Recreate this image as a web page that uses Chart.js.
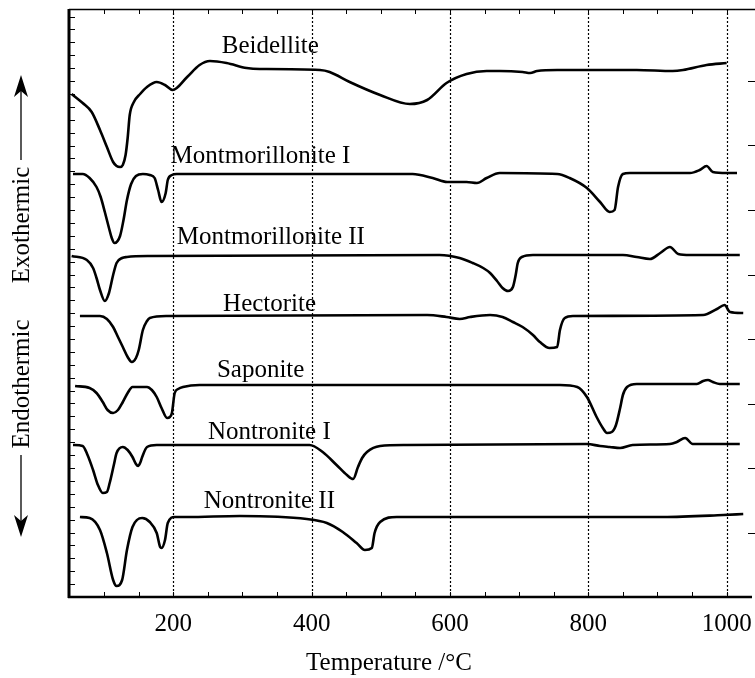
<!DOCTYPE html>
<html><head><meta charset="utf-8">
<script src="https://cdn.jsdelivr.net/npm/chart.js@4.4.1/dist/chart.umd.min.js"></script>
<style>html,body{margin:0;padding:0;background:#fff;} #wrap{width:755px;height:678px;position:relative;}</style>
</head><body><div id="wrap"><canvas id="c"></canvas></div>
<script>
// ---- data (Temperature in °C, DTA signal in arbitrary units, stacked offsets) ----
const xTickLabels = [200, 400, 600, 800, 1000];
const seriesNames = ['Beidellite', 'Montmorillonite I', 'Montmorillonite II', 'Hectorite', 'Saponite', 'Nontronite I', 'Nontronite II'];

const beidelliteT = [53, 69, 82, 94, 104, 113, 118, 123, 127, 131, 134, 137, 143, 152, 162, 176, 188, 199, 220, 238, 253, 277, 306, 325, 335, 412, 426, 455, 499, 542, 567, 595, 624, 653, 672, 705, 716, 726, 755, 870, 922, 937, 971, 1000];
const beidelliteV = [503, 494, 485, 467, 450, 435, 431, 430, 432, 442, 459, 482, 495, 503, 510, 515, 512, 507, 520, 532, 536, 534, 529, 528, 528, 527, 525, 515, 502, 493, 497, 514, 523, 526, 526, 525, 524, 526, 527, 527, 526, 527, 532, 534];

const montITemp = [55, 69, 79, 89, 95, 101, 107, 111, 115, 123, 128, 133, 139, 146, 156, 166, 173, 178, 183, 189, 192, 198, 205, 546, 575, 596, 624, 639, 653, 672, 755, 773, 798, 817, 831, 838, 843, 850, 860, 947, 961, 971, 980, 1000, 1015];
const montIV = [423, 423, 419, 410, 400, 385, 369, 359, 354, 361, 377, 397, 413, 421, 423, 422, 419, 407, 395, 404, 417, 422, 423, 423, 419, 415, 415, 414, 419, 424, 423, 419, 409, 395, 385, 387, 410, 423, 424, 424, 427, 431, 425, 424, 424];

const montIITemp = [53, 75, 84, 89, 94, 101, 107, 113, 118, 126, 133, 166, 585, 614, 633, 648, 658, 668, 676, 684, 691, 695, 698, 704, 720, 850, 870, 889, 904, 918, 930, 947, 1019];
const montIIV = [341, 337, 329, 319, 307, 296, 304, 322, 334, 339, 340, 341, 342, 339, 334, 329, 324, 316, 309, 306, 310, 322, 334, 340, 342, 342, 340, 338, 344, 350, 343, 342, 342];

const hectoriteT = [65, 94, 104, 113, 120, 127, 134, 140, 146, 150, 156, 162, 166, 191, 567, 595, 614, 629, 658, 676, 691, 705, 720, 730, 744, 755, 759, 766, 778, 966, 986, 997, 1005, 1024];
const hectoriteV = [281, 281, 278, 270, 260, 250, 240, 235, 239, 247, 267, 276, 279, 281, 282, 280, 278, 280, 282, 280, 275, 270, 262, 255, 249, 250, 267, 279, 281, 282, 288, 292, 285, 284];

const saponiteT = [58, 79, 89, 98, 105, 113, 120, 127, 134, 141, 162, 169, 176, 183, 191, 195, 198, 202, 207, 214, 238, 759, 784, 798, 812, 821, 827, 834, 840, 846, 850, 856, 870, 957, 966, 973, 980, 990, 1019];
const saponiteV = [211, 209, 204, 195, 187, 184, 187, 195, 204, 210, 210, 207, 200, 189, 179, 180, 184, 204, 208, 210, 212, 212, 210, 200, 180, 169, 164, 165, 172, 189, 202, 210, 213, 213, 216, 217, 215, 213, 213];

const nontITemp = [55, 69, 76, 84, 91, 98, 104, 108, 114, 118, 127, 134, 141, 146, 149, 152, 155, 162, 176, 397, 416, 436, 451, 460, 467, 473, 480, 499, 538, 798, 817, 831, 846, 864, 918, 928, 940, 951, 1019];
const nontIV = [152, 151, 142, 127, 112, 104, 105, 114, 132, 144, 150, 147, 140, 133, 131, 134, 140, 150, 152, 152, 145, 132, 122, 118, 130, 139, 145, 151, 152, 153, 151, 150, 149, 152, 153, 155, 159, 153, 153];

const nontIITemp = [65, 79, 94, 104, 113, 118, 126, 133, 141, 155, 166, 176, 181, 183, 188, 192, 202, 220, 296, 393, 422, 445, 465, 477, 487, 491, 499, 523, 672, 908, 995, 1024];
const nontIIV = [80, 79, 67, 44, 17, 11, 17, 47, 70, 79, 75, 64, 50, 49, 57, 74, 80, 80, 81, 78, 74, 65, 54, 47, 49, 64, 75, 80, 80, 80, 82, 83];

// label anchors in data units (temperature, signal)
const labelT = [270, 196, 205, 272, 263, 250, 244];
const labelV = [544, 434, 353, 286, 220, 158, 89];

const seriesT = [beidelliteT, montITemp, montIITemp, hectoriteT, saponiteT, nontITemp, nontIITemp];
const seriesV = [beidelliteV, montIV, montIIV, hectoriteV, saponiteV, nontIV, nontIIV];

const FONT = '"Liberation Serif", "Times New Roman", "DejaVu Serif", serif';

const decor = {
  id: 'decor',
  beforeDatasetsDraw(chart) {
    const {ctx, chartArea: a, scales: {x}} = chart;
    ctx.save();
    ctx.strokeStyle = '#000';
    ctx.lineWidth = 1.2;
    ctx.setLineDash([2, 2]);
    xTickLabels.forEach(t => {
      const px = Math.round(x.getPixelForValue(t)) + 0.5;
      ctx.beginPath(); ctx.moveTo(px, a.top); ctx.lineTo(px, a.bottom); ctx.stroke();
    });
    ctx.restore();
  },
  afterDatasetsDraw(chart) {
    const {ctx, chartArea: a, scales: {x, y}} = chart;
    ctx.save();
    ctx.strokeStyle = '#000';
    ctx.fillStyle = '#000';
    // frame
    ctx.lineWidth = 1.5;
    ctx.beginPath(); ctx.moveTo(a.left, a.top + 0.5); ctx.lineTo(a.right, a.top + 0.5); ctx.stroke();
    ctx.lineWidth = 3;
    ctx.beginPath(); ctx.moveTo(a.left, a.top); ctx.lineTo(a.left, a.bottom + 1); ctx.stroke();
    ctx.lineWidth = 2.5;
    ctx.beginPath(); ctx.moveTo(a.left - 1, a.bottom); ctx.lineTo(a.right - 3, a.bottom); ctx.stroke();
    // minor x ticks (top and bottom, inward)
    ctx.lineWidth = 1;
    for (let t = 100; t <= 1000; t += 50) {
      const px = Math.round(x.getPixelForValue(t)) + 0.5;
      ctx.beginPath(); ctx.moveTo(px, a.top); ctx.lineTo(px, a.top + 5); ctx.stroke();
      ctx.beginPath(); ctx.moveTo(px, a.bottom); ctx.lineTo(px, a.bottom - 5); ctx.stroke();
    }
    // y ticks (left, inward) and right dashes
    for (let v = 12.9; v < y.max; v += 12.9) {
      const py = Math.round(y.getPixelForValue(v)) + 0.5;
      ctx.beginPath(); ctx.moveTo(a.left, py); ctx.lineTo(a.left + 6, py); ctx.stroke();
    }
    for (let k = 1; k <= 8; k++) {
      const py = Math.round(y.getPixelForValue(64.5 * k)) + 0.5;
      ctx.beginPath(); ctx.moveTo(a.right - 7, py); ctx.lineTo(a.right, py); ctx.stroke();
    }
    ctx.font = '25px ' + FONT;
    // x tick labels
    ctx.textAlign = 'center';
    ctx.textBaseline = 'alphabetic';
    xTickLabels.forEach(t => ctx.fillText(String(t), x.getPixelForValue(t), a.bottom + 34));
    // series labels
    ctx.textAlign = 'left';
    seriesNames.forEach((n, i) => {
      ctx.fillText(n, x.getPixelForValue(labelT[i]), y.getPixelForValue(labelV[i]));
    });
    // x-axis title
    ctx.textAlign = 'center';
    ctx.fillText('Temperature /°C', 389, 670);
    // y-axis label with arrows
    const ax = 21;
    ctx.save(); ctx.translate(29, 225); ctx.rotate(-Math.PI / 2); ctx.fillText('Exothermic', 0, 0); ctx.restore();
    ctx.save(); ctx.translate(29, 384); ctx.rotate(-Math.PI / 2); ctx.fillText('Endothermic', 0, 0); ctx.restore();
    ctx.lineWidth = 1.3;
    ctx.beginPath(); ctx.moveTo(ax, 160); ctx.lineTo(ax, 85); ctx.stroke();
    ctx.beginPath(); ctx.moveTo(ax, 75); ctx.lineTo(ax - 7, 97); ctx.lineTo(ax, 91); ctx.lineTo(ax + 7, 97); ctx.closePath(); ctx.fill();
    ctx.beginPath(); ctx.moveTo(ax, 455); ctx.lineTo(ax, 527); ctx.stroke();
    ctx.beginPath(); ctx.moveTo(ax, 537); ctx.lineTo(ax - 7, 515); ctx.lineTo(ax, 521); ctx.lineTo(ax + 7, 515); ctx.closePath(); ctx.fill();
    ctx.restore();
  }
};

new Chart(document.getElementById('c'), {
  type: 'line',
  data: {
    datasets: seriesNames.map((n, i) => ({
      label: n,
      data: seriesT[i].map((t, j) => ({x: t, y: seriesV[i][j]})),
      borderColor: '#000',
      borderWidth: 2.6,
      pointRadius: 0,
      fill: false,
      cubicInterpolationMode: 'monotone'
    }))
  },
  options: {
    responsive: true,
    maintainAspectRatio: false,
    animation: false,
    devicePixelRatio: 1,
    layout: {padding: {left: 69, right: 0, top: 9, bottom: 81}},
    plugins: {legend: {display: false}, tooltip: {enabled: false}},
    scales: {
      x: {type: 'linear', display: false, min: 49.2, max: 1041},
      y: {type: 'linear', display: false, min: 0, max: 588}
    }
  },
  plugins: [decor]
});
</script>
</body></html>
